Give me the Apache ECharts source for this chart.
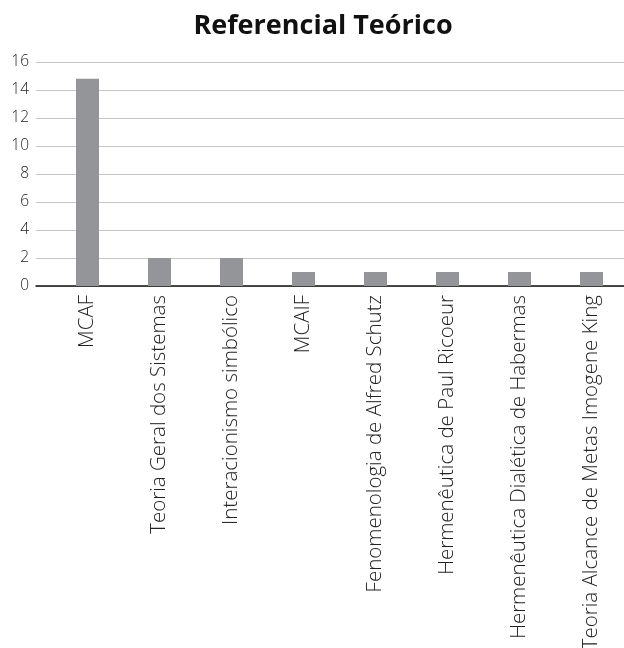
<!DOCTYPE html>
<html>
<head>
<meta charset="utf-8">
<script src="https://cdn.jsdelivr.net/npm/echarts@6/dist/echarts.min.js"></script>
<style>html,body{margin:0;padding:0;background:#fff}#c{width:624px;height:648px}</style>
</head>
<body>
<div id="c"></div>
<script>
var title = 'Referencial Teórico';
var categories = ['MCAF','Teoria Geral dos Sistemas','Interacionismo simbólico','MCAIF','Fenomenologia de Alfred Schutz','Hermenêutica de Paul Ricoeur','Hermenêutica Dialética de Habermas','Teoria Alcance de Metas Imogene King'];
var values = [14.8, 2, 2, 1, 1, 1, 1, 1];
var yMin = 0, yMax = 16, yStep = 2;

var font = '"Open Sans", "Noto Sans", sans-serif';
var chart = echarts.init(document.getElementById('c'), null, {renderer:'canvas'});
chart.setOption({
  animation: false,
  backgroundColor: '#fff',
  title: {
    text: title, left: 318, textAlign: 'center', top: 8,
    textStyle: {fontFamily: font, fontWeight: 'bold', fontSize: 27, color: '#111'}
  },
  grid: [
    {left: 36, right: 0, top: 62, bottom: 362, containLabel: false, outerBoundsMode: 'none'},
    {left: 51.5, right: -3.5, top: 62, bottom: 362, containLabel: false, outerBoundsMode: 'none'}
  ],
  xAxis: [
    {gridIndex: 0, type: 'value', min: 0, max: 1, axisLabel: {show: false}, axisTick: {show: false}, splitLine: {show: false},
     axisLine: {show: true, lineStyle: {color: '#111', width: 1.5}}},
    {gridIndex: 1, type: 'category', data: categories, axisLine: {show: false}, axisTick: {show: false},
     axisLabel: {rotate: 90, margin: 9, interval: 0, fontFamily: font, fontSize: 20.5, color: '#222', fontWeight: 300}}
  ],
  yAxis: [
    {gridIndex: 0, type: 'value', min: yMin, max: yMax, interval: yStep,
     axisLine: {show: false}, axisTick: {show: false},
     axisLabel: {margin: 7, fontFamily: font, fontSize: 15.5, color: '#222', fontWeight: 300},
     splitLine: {show: true, lineStyle: {color: '#c6c6c6', width: 1}}},
    {gridIndex: 1, type: 'value', min: yMin, max: yMax, interval: yStep, show: false, splitLine: {show: false}}
  ],
  series: [{
    type: 'bar', xAxisIndex: 1, yAxisIndex: 1, data: values, barWidth: 23,
    itemStyle: {color: '#939598'}
  }]
});
</script>
</body>
</html>
